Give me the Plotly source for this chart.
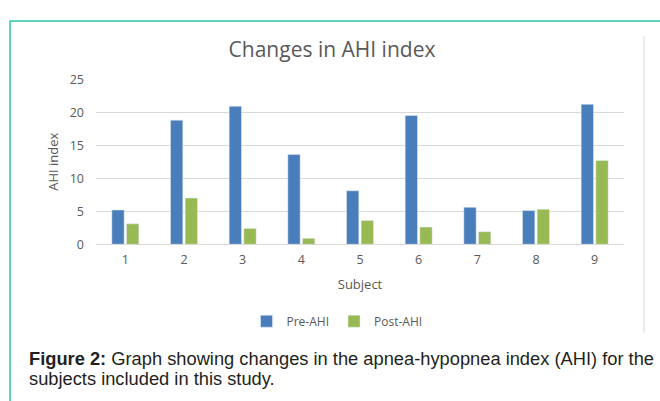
import plotly.graph_objects as go

W, H = 660, 401

subjects = ["1", "2", "3", "4", "5", "6", "7", "8", "9"]
pre_ahi = [5.2, 18.8, 20.9, 13.6, 8.1, 19.5, 5.6, 5.1, 21.2]
post_ahi = [3.1, 7.0, 2.4, 0.9, 3.6, 2.6, 1.9, 5.3, 12.7]
y_ticks = [0, 5, 10, 15, 20, 25]

BLUE = "#4a7ebb"
GREEN = "#98b954"
TXT = "#595959"
FONT = "Open Sans"


def px(x):
    return x / W


def py(y):
    return 1 - y / H


fig = go.Figure()
fig.add_trace(go.Bar(x=subjects, y=pre_ahi, name="Pre-AHI", marker_color=BLUE))
fig.add_trace(go.Bar(x=subjects, y=post_ahi, name="Post-AHI", marker_color=GREEN))

fig.update_layout(
    width=W, height=H,
    margin=dict(l=0, r=0, t=0, b=0),
    paper_bgcolor="white", plot_bgcolor="white",
    barmode="group", bargap=0.5, bargroupgap=0.16,
    font=dict(family=FONT, color=TXT, size=12),
    title=dict(text="Changes in AHI index", x=332 / W, xanchor="center",
               y=py(50), yanchor="middle",
               font=dict(family=FONT, size=21, color=TXT)),
    xaxis=dict(domain=[px(96), px(624)], showgrid=False,
               showline=True, linecolor="#d9d9d9", linewidth=1,
               ticks="", tickfont=dict(size=12.5, color=TXT), ticklabelstandoff=4,
               title=dict(text="Subject", font=dict(size=13, color=TXT), standoff=12)),
    yaxis=dict(domain=[py(245.7), py(73.3)], range=[0, 25],
               tickvals=y_ticks, showgrid=True, gridcolor="#d9d9d9",
               zeroline=False, showline=False, ticks="",
               tickfont=dict(size=12.5, color=TXT), ticklabelstandoff=11,
               title=dict(text="AHI index", font=dict(size=13, color=TXT), standoff=8)),
    legend=dict(orientation="h", x=337 / W, xanchor="center", y=py(326), yanchor="middle",
                font=dict(size=12, color=TXT), itemwidth=30, traceorder="normal"),
    shapes=[
        dict(type="rect", xref="paper", yref="paper",
             x0=px(10), x1=1.05, y0=-0.05, y1=py(12.5),
             line=dict(color="#2ec4a6", width=1.5), fillcolor="rgba(0,0,0,0)", layer="below"),
        dict(type="line", xref="paper", yref="paper",
             x0=px(644), x1=px(644), y0=py(28), y1=py(338),
             line=dict(color="#d9d9d9", width=1)),
    ],
    annotations=[
        dict(text="<b>Figure 2:</b> Graph showing changes in the apnea-hypopnea index (AHI) for the",
             xref="paper", yref="paper", x=px(27), y=py(364.5), xanchor="left", yanchor="middle",
             showarrow=False, font=dict(family="Liberation Sans", size=18.3, color="#231f20")),
        dict(text="subjects included in this study.",
             xref="paper", yref="paper", x=px(27), y=py(385.5), xanchor="left", yanchor="middle",
             showarrow=False, font=dict(family="Liberation Sans", size=18.3, color="#231f20")),
    ],
)

fig.write_html("out.html", config={"displayModeBar": False},
               post_script="document.body.style.margin='0';")
